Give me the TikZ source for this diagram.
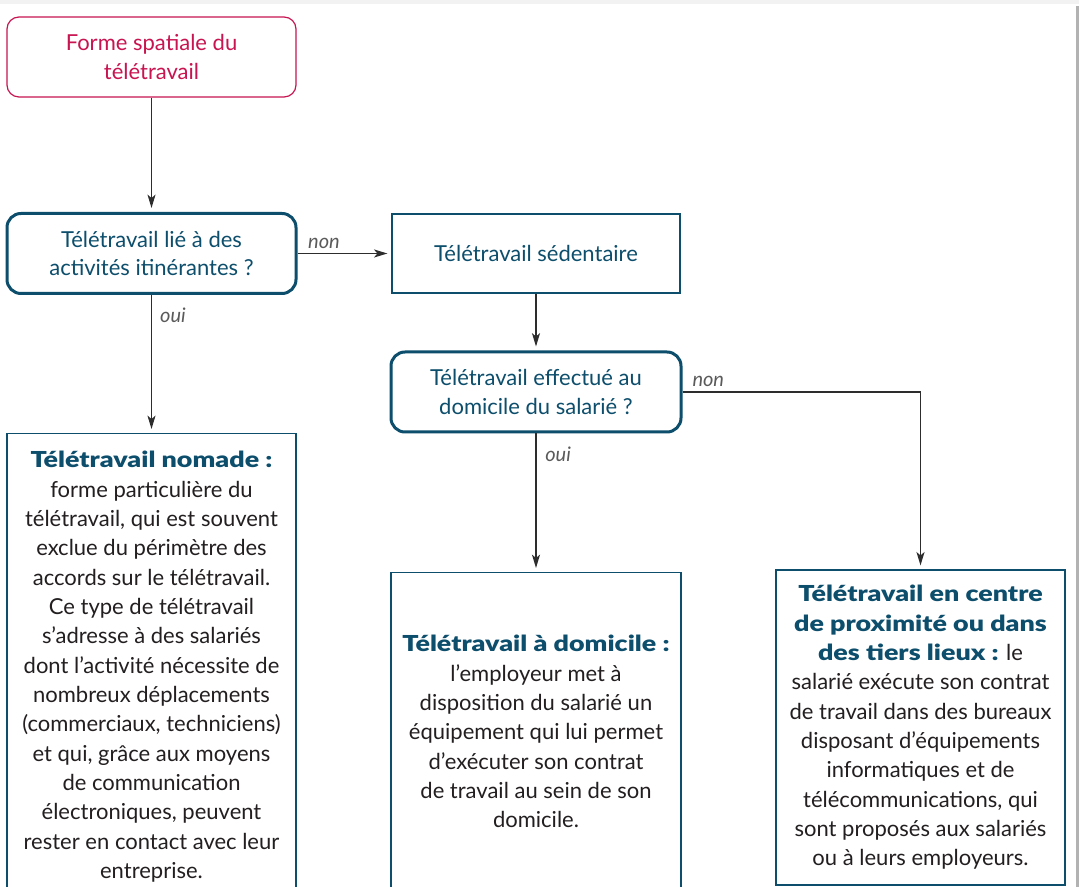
\documentclass[tikz,border=0pt]{standalone}
\usepackage{fontspec}
\setmainfont{Lato}
\IfFontExistsTF{Lato Black}{\newfontfamily\ttHeavy{Lato Black}[FakeStretch=1.22]}{\newcommand\ttHeavy{\bfseries}}
\usetikzlibrary{arrows.meta}
\definecolor{ttRed}{RGB}{200,20,80}
\definecolor{ttTeal}{RGB}{12,78,108}
\definecolor{ttBody}{RGB}{35,31,32}
\definecolor{ttArrow}{RGB}{45,45,45}
\definecolor{ttLabel}{RGB}{90,90,90}
\newcommand{\ttHead}[1]{{\ttHeavy\color{ttTeal}#1}}
\begin{document}
\begin{tikzpicture}[x=0.75pt, y=-0.75pt,
  every node/.style={align=center, inner sep=0pt},
  boxbase/.style={draw=ttTeal, line width=0.9pt, minimum width=216.75pt, font=\fontsize{16.5}{21.5}\selectfont},
  titlebox/.style={boxbase, draw=ttRed, text=ttRed, rounded corners=9pt, minimum height=60pt},
  questbox/.style={boxbase, text=ttTeal, line width=2.25pt, rounded corners=10.5pt, minimum height=60pt},
  plainbox/.style={boxbase, text=ttTeal, minimum height=59.25pt},
  infobox/.style={boxbase, text=ttBody, font=\fontsize{16.5}{22}\selectfont},
  arr/.style={draw=ttArrow, line width=1pt, -{Stealth[length=10pt,width=6pt,inset=2.5pt]}, shorten >=3pt},
  lbl/.style={text=ttLabel, font=\fontsize{15}{15}\selectfont\itshape}]
% Page frame, 1079 x 887 px
\useasboundingbox (0,0) rectangle (1079,887);
\fill[white] (0,0) rectangle (1079,887);
\fill[black!5] (0,0) rectangle (1079,4);
\fill[black!30] (1076,6) rectangle (1079,887);
% Boxes
\node[titlebox] (forme) at (151.5,57) {Forme spatiale du\\télétravail};
\node[questbox] (itin) at (151.5,253.5) {Télétravail lié à des\\activités itinérantes ?};
\node[plainbox, minimum width=216pt] (sed) at (536,253.5) {Télétravail sédentaire};
\node[questbox, minimum width=217.5pt] (domq) at (536,392) {Télétravail effectué au\\domicile du salarié ?};
\node[infobox, anchor=north, minimum height=350pt] (nomade) at (151.5,433) {%
  \ttHead{Télétravail nomade :}\\
  forme particulière du\\
  télétravail, qui est souvent\\
  exclue du périmètre des\\
  accords sur le télétravail.\\
  Ce type de télétravail\\
  s’adresse à des salariés\\
  dont l’activité nécessite de\\
  nombreux déplacements\\
  (commerciaux, techniciens)\\
  et qui, grâce aux moyens\\
  de communication\\
  électroniques, peuvent\\
  rester en contact avec leur\\
  entreprise.};
\node[infobox, anchor=north, minimum width=217.5pt, minimum height=238.5pt] (domic) at (536,572) {%
  \ttHead{Télétravail à domicile :}\\
  l’employeur met à\\
  disposition du salarié un\\
  équipement qui lui permet\\
  d’exécuter son contrat\\
  de travail au sein de son\\
  domicile.};
\node[infobox, minimum height=236.25pt] (prox) at (920.5,727.5) {%
  \ttHead{Télétravail en centre}\\
  \ttHead{de proximité ou dans}\\
  \ttHead{des tiers lieux :} le\\
  salarié exécute son contrat\\
  de travail dans des bureaux\\
  disposant d’équipements\\
  informatiques et de\\
  télécommunications, qui\\
  sont proposés aux salariés\\
  ou à leurs employeurs.};
% Connectors
\draw[arr] (forme) -- (itin);
\draw[arr] (itin) -- node[lbl, pos=0, anchor=base west, xshift=7.5pt, yshift=3.75pt] {non} (sed);
\draw[arr] (itin) -- node[lbl, pos=0, anchor=base west, xshift=6pt, yshift=-21pt] {oui} (nomade);
\draw[arr] (sed) -- (domq);
\draw[arr] (domq) -- node[lbl, pos=0, anchor=base west, xshift=6.5pt, yshift=-21pt] {oui} (domic);
\draw[arr] (domq.east) -| node[lbl, pos=0, anchor=base west, xshift=7pt, yshift=3.75pt] {non} (prox.north);
\end{tikzpicture}
\end{document}
